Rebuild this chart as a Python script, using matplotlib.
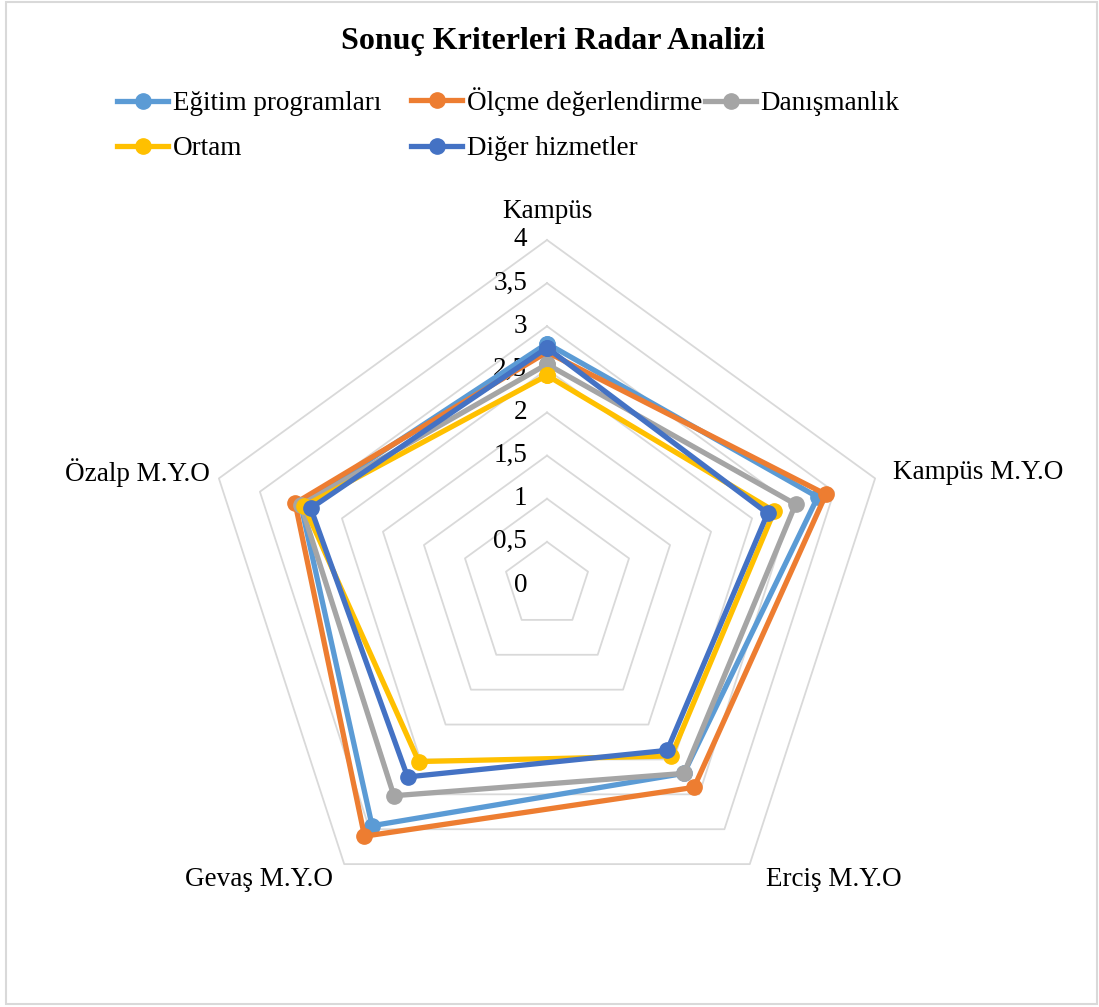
import numpy as np
import matplotlib.pyplot as plt
from matplotlib.patches import Rectangle

plt.rcParams['font.family'] = ['Liberation Serif', 'DejaVu Serif']

categories = ['Kampüs', 'Kampüs M.Y.O', 'Erciş M.Y.O', 'Gevaş M.Y.O', 'Özalp M.Y.O']
series_names = ['Eğitim programları', 'Ölçme değerlendirme', 'Danışmanlık', 'Ortam', 'Diğer hizmetler']
egitim = [2.80, 3.30, 2.70, 3.45, 3.00]
olcme = [2.70, 3.40, 2.90, 3.60, 3.07]
danisma = [2.56, 3.03, 2.70, 3.02, 3.00]
ortam = [2.43, 2.77, 2.45, 2.53, 2.96]
diger = [2.75, 2.69, 2.37, 2.75, 2.88]
ticks = [0, 0.5, 1, 1.5, 2, 2.5, 3, 3.5, 4]
tick_labels = ['0', '0,5', '1', '1,5', '2', '2,5', '3', '3,5', '4']

colors = ['#5B9BD5', '#ED7D31', '#A5A5A5', '#FFC000', '#4472C4']
values = [egitim, olcme, danisma, ortam, diger]
fs = 19.5

W, H = 1099, 1007
fig = plt.figure(figsize=(W / 100, H / 100), dpi=100)
fig.add_artist(Rectangle((6 / W, 3 / H), 1091 / W, 1002 / H, transform=fig.transFigure,
                         fill=False, edgecolor='#D9D9D9', linewidth=1.5))

# axes placed so that the radar center sits at px (547, 585), 1 unit = 86.25 px
scale = 86.25
cx, cy = 547, H - 585
ax = fig.add_axes([(cx - 450) / W, (cy - 400) / H, 900 / W, 800 / H])
ax.set_xlim(-450 / scale, 450 / scale)
ax.set_ylim(-400 / scale, 400 / scale)
ax.axis('off')

n = len(categories)
ang = np.pi / 2 - np.arange(n) * 2 * np.pi / n
ang_c = np.append(ang, ang[0])

for t in ticks[1:]:
    ax.plot(t * np.cos(ang_c), t * np.sin(ang_c), color='#D9D9D9', lw=1.3, zorder=1)

for t, lab in zip(ticks, tick_labels):
    ax.text(-0.23, t, lab, ha='right', va='center', fontsize=fs)

nudge = [0, 0, 5, 0, 9]  # small x shifts in px
for i, (a, cat) in enumerate(zip(ang, categories)):
    if i == 0:
        ax.text(0, 4.33, cat, ha='center', va='center', fontsize=fs)
    else:
        r = 4.22
        ha = 'left' if np.cos(a) > 0 else 'right'
        ax.text(r * np.cos(a) + nudge[i] / scale, r * np.sin(a), cat, ha=ha, va='center',
                fontsize=fs)

handles = []
for name, vals, c in zip(series_names, values, colors):
    v = np.append(vals, vals[0])
    h, = ax.plot(v * np.cos(ang_c), v * np.sin(ang_c), color=c, lw=3.8, marker='o',
                 markersize=11, label=name, zorder=3)
    handles.append(h)

# legend laid out in three columns like the original
columns = [[0, 3], [1, 4], [2]]
col_x = [117, 411, 705]
col_y = [91, 87, 91]
for idx, x, y in zip(columns, col_x, col_y):
    fig.legend([handles[i] for i in idx], [series_names[i] for i in idx],
               loc='upper left', bbox_to_anchor=(x / W, 1 - y / H), ncol=1,
               frameon=False, fontsize=fs, handlelength=1.9, handletextpad=0.15,
               labelspacing=0.75, borderaxespad=0, borderpad=0)

fig.text(553 / W, 1 - 42 / H, 'Sonuç Kriterleri Radar Analizi', ha='center', va='center',
         fontsize=23, fontweight='bold')

fig.savefig('out.png', dpi=100)
